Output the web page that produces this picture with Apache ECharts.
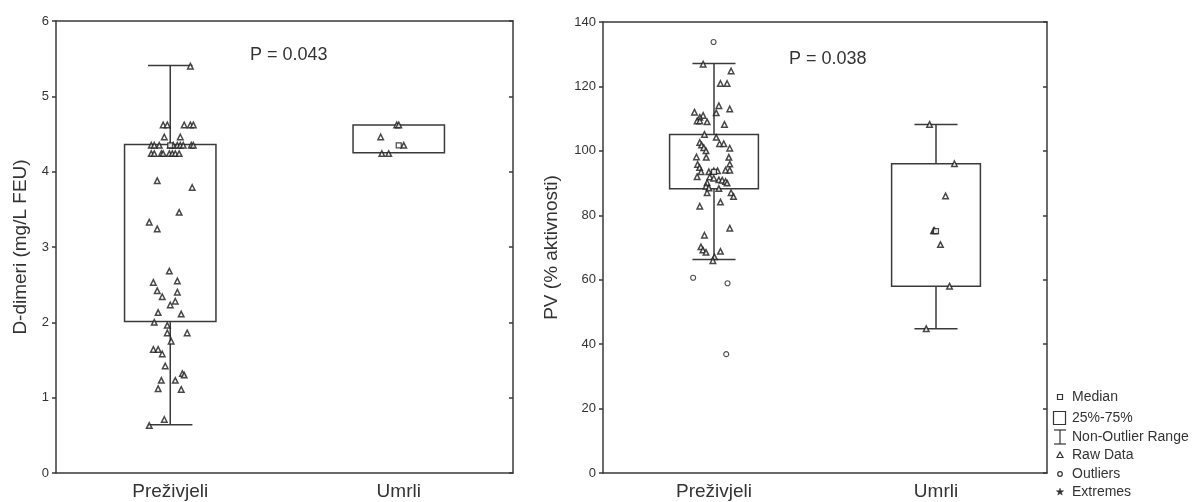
<!DOCTYPE html>
<html><head><meta charset="utf-8">
<script src="https://cdn.jsdelivr.net/npm/echarts@6/dist/echarts.min.js"></script>
<style>html,body{margin:0;padding:0;background:#fff}#c{width:1194px;height:502px}</style>
</head><body><div id="c"></div>
<script>
// ---------- DATA ----------
const categories = ['Preživjeli', 'Umrli'];
const ddTicks = [0, 1, 2, 3, 4, 5, 6];
const pvTicks = [0, 20, 40, 60, 80, 100, 120, 140];
// box stats: [category index, non-outlier min, Q1, median, Q3, non-outlier max]
const ddBox = [[0, 0.64, 2.01, 4.35, 4.36, 5.41], [1, 4.25, 4.25, 4.35, 4.62, 4.62]];
const pvBox = [[0, 66.3, 88.2, 93.5, 105.1, 127.1], [1, 44.8, 58.0, 75.1, 96.0, 108.2]];
// raw data: [category index + jitter, value]
const ddRawSurvived = [
  [0.088,5.40],[-0.031,4.62],[-0.013,4.62],[0.061,4.62],[0.088,4.62],[0.101,4.62],
  [-0.026,4.46],[0.044,4.46],
  [-0.083,4.35],[-0.070,4.35],[-0.048,4.35],[0.000,4.35],[0.013,4.35],[0.031,4.35],[0.044,4.35],[0.057,4.35],[0.092,4.35],[0.101,4.35],
  [-0.083,4.24],[-0.070,4.24],[-0.039,4.24],[-0.031,4.24],[-0.004,4.24],[0.009,4.24],[0.022,4.24],[0.039,4.24],
  [-0.057,3.88],[0.096,3.79],[0.039,3.46],[-0.092,3.33],[-0.057,3.24],
  [-0.004,2.68],[-0.074,2.53],[0.031,2.55],[-0.057,2.42],[0.031,2.40],[-0.035,2.34],[0.022,2.28],[0.000,2.23],[-0.053,2.13],[0.048,2.11],
  [-0.070,2.00],[-0.013,1.96],[-0.013,1.86],[0.074,1.86],[0.004,1.75],[-0.074,1.64],[-0.053,1.64],[-0.035,1.58],[-0.022,1.42],
  [0.053,1.32],[0.061,1.30],[-0.039,1.23],[0.022,1.23],[-0.053,1.12],[0.048,1.11],[-0.026,0.71],[-0.092,0.63]
];
const ddRawDied = [[0.991,4.62],[1.000,4.62],[0.921,4.46],[1.022,4.35],[0.926,4.24],[0.956,4.24]];
const pvRawSurvived = [
  [-0.049,126.9],[0.077,124.8],[0.029,120.9],[0.059,120.9],[0.022,114.0],[0.071,113.0],[0.010,111.8],[-0.088,112.0],
  [-0.049,111.0],[-0.064,110.4],[-0.076,109.3],[-0.064,109.3],[-0.031,109.0],[0.047,108.2],[-0.043,105.1],[0.010,104.2],
  [-0.064,102.6],[-0.056,101.8],[-0.046,101.0],[-0.036,100.0],[0.025,102.2],[0.044,102.2],[0.071,100.8],
  [-0.079,98.1],[-0.035,98.0],[0.067,98.0],[-0.074,95.8],[-0.065,94.8],[0.071,95.9],[-0.058,93.5],[-0.076,92.0],
  [-0.023,93.5],[-0.001,93.8],[0.016,93.8],[0.052,94.0],[0.071,94.0],[-0.019,91.9],[-0.001,91.5],[0.022,91.0],
  [0.037,90.9],[0.052,90.5],[0.059,90.0],[-0.031,90.1],[-0.036,89.0],[-0.023,88.5],[0.022,88.3],[-0.031,87.0],
  [0.077,87.0],[0.088,85.8],[-0.064,82.8],[0.029,84.1],[0.071,76.0],[-0.043,73.8],[-0.059,70.2],[-0.050,69.2],
  [-0.036,68.5],[0.029,68.8],[0.002,67.1],[-0.005,65.9]
];
const pvOutliers = [[-0.002,133.8],[-0.094,60.6],[0.061,58.9],[0.055,36.9]];
const pvRawDied = [[0.971,108.2],[1.083,96.0],[1.043,86.0],[0.989,75.2],[0.994,75.2],[1.020,70.9],[1.061,58.0],[0.956,44.8]];
const pLabels = ['P = 0.043', 'P = 0.038'];
const yNames = ['D-dimeri (mg/L FEU)', 'PV (% aktivnosti)'];
const legendItems = ['Median', '25%-75%', 'Non-Outlier Range', 'Raw Data', 'Outliers', 'Extremes'];

// ---------- CHART ----------
const INK = '#333';
const LINE = { color: '#3a3a3a', width: 1.5 };
const font = 'Liberation Sans, Arial, sans-serif';

function renderBox(params, api) {
  const x = api.value(0), lo = api.value(1), q1 = api.value(2), q3 = api.value(4), hi = api.value(5);
  const hb = 0.2, hc = 0.097;
  const xl = api.coord([x - hb, 0])[0], xr = api.coord([x + hb, 0])[0];
  const xc = api.coord([x, 0])[0];
  const cl = api.coord([x - hc, 0])[0], cr = api.coord([x + hc, 0])[0];
  const yq1 = api.coord([x, q1])[1], yq3 = api.coord([x, q3])[1];
  const ylo = api.coord([x, lo])[1], yhi = api.coord([x, hi])[1];
  const st = { stroke: '#3a3a3a', lineWidth: 1.5, fill: null };
  const ch = [{ type: 'rect', shape: { x: xl, y: yq3, width: xr - xl, height: yq1 - yq3 }, style: st }];
  if (hi > q3) {
    ch.push({ type: 'line', shape: { x1: xc, y1: yq3, x2: xc, y2: yhi }, style: st });
    ch.push({ type: 'line', shape: { x1: cl, y1: yhi, x2: cr, y2: yhi }, style: st });
  }
  if (lo < q1) {
    ch.push({ type: 'line', shape: { x1: xc, y1: yq1, x2: xc, y2: ylo }, style: st });
    ch.push({ type: 'line', shape: { x1: cl, y1: ylo, x2: cr, y2: ylo }, style: st });
  }
  return { type: 'group', children: ch };
}

const grids = [
  { left: 56, top: 21, width: 457, height: 452 },
  { left: 603, top: 22, width: 444, height: 451 }
];
const yRanges = [[0, 6, 1], [0, 140, 20]];
const nameGaps = [26, 42];

const xAxis = [], yAxis = [], series = [];
grids.forEach((g, i) => {
  xAxis.push({ gridIndex: i, type: 'category', data: categories, position: 'bottom', boundaryGap: true,
    axisLine: { onZero: false, lineStyle: LINE }, axisTick: { inside: true, length: 3, alignWithLabel: true, lineStyle: LINE },
    axisLabel: { fontSize: 19, color: INK, margin: 9, fontFamily: font } });
  xAxis.push({ gridIndex: i, type: 'category', data: categories, position: 'top', boundaryGap: true,
    axisLine: { onZero: false, lineStyle: LINE }, axisTick: { inside: true, length: 3, alignWithLabel: true, lineStyle: LINE },
    axisLabel: { show: false } });
  xAxis.push({ gridIndex: i, type: 'value', min: -0.5, max: 1.5, show: false, axisLine: { onZero: false } });
  const [mn, mx, iv] = yRanges[i];
  yAxis.push({ gridIndex: i, type: 'value', min: mn, max: mx, interval: iv, position: 'left',
    name: yNames[i], nameLocation: 'middle', nameGap: nameGaps[i], nameRotate: 90,
    nameTextStyle: { fontSize: 19, color: INK, fontFamily: font },
    axisLine: { show: true, onZero: false, lineStyle: LINE }, axisTick: { show: true, inside: false, length: 4, lineStyle: LINE },
    splitLine: { show: false }, axisLabel: { fontSize: 13, color: INK, margin: 7, fontFamily: font } });
  yAxis.push({ gridIndex: i, type: 'value', min: mn, max: mx, interval: iv, position: 'right',
    axisLine: { show: true, onZero: false, lineStyle: LINE }, axisTick: { show: true, inside: true, length: 4, lineStyle: LINE },
    splitLine: { show: false }, axisLabel: { show: false } });
});

function vx(i) { return i * 3 + 2; }
function vy(i) { return i * 2; }
const tri = { symbol: 'triangle', symbolSize: 5.5, itemStyle: { color: '#fff', borderColor: '#1a1a1a', borderWidth: 1.5 } };
const boxes = [ddBox, pvBox];
const raws = [[ddRawSurvived, ddRawDied], [pvRawSurvived, pvRawDied]];
boxes.forEach((b, i) => {
  series.push({ type: 'custom', xAxisIndex: vx(i), yAxisIndex: vy(i), renderItem: renderBox,
    encode: { x: 0, y: [1, 2, 3, 4, 5] }, data: b, z: 2, silent: true });
  raws[i].forEach(r => series.push(Object.assign({ type: 'scatter', xAxisIndex: vx(i), yAxisIndex: vy(i), data: r, z: 3, silent: true }, tri)));
  series.push({ type: 'scatter', xAxisIndex: vx(i), yAxisIndex: vy(i), z: 4, silent: true,
    data: b.map(d => [d[0], d[3]]), symbol: 'rect', symbolSize: 5,
    itemStyle: { color: '#fff', borderColor: '#1a1a1a', borderWidth: 1.2 } });
});
series.push({ type: 'scatter', xAxisIndex: vx(1), yAxisIndex: vy(1), data: pvOutliers, z: 3, silent: true,
  symbol: 'circle', symbolSize: 5, itemStyle: { color: '#fff', borderColor: '#222', borderWidth: 1.1 } });

// legend and annotation graphics
const gstroke = { stroke: '#333', lineWidth: 1.2, fill: '#fff' };
const starPts = [];
for (let k = 0; k < 10; k++) {
  const r = k % 2 ? 1.6 : 3.8, a = -Math.PI / 2 + k * Math.PI / 5;
  starPts.push([1060 + r * Math.cos(a), 492 + r * Math.sin(a)]);
}
const legY = [397, 418, 437, 455, 474, 492];
const graphic = [
  { type: 'text', left: 250, top: 46, style: { text: pLabels[0], fontSize: 18, fill: INK, fontFamily: font } },
  { type: 'text', left: 789, top: 50, style: { text: pLabels[1], fontSize: 18, fill: INK, fontFamily: font } },
  { type: 'rect', shape: { x: 1057.5, y: 394.5, width: 5, height: 5 }, style: gstroke },
  { type: 'rect', shape: { x: 1053.5, y: 411.5, width: 12, height: 13 }, style: gstroke },
  { type: 'line', shape: { x1: 1060, y1: 430, x2: 1060, y2: 444 }, style: gstroke },
  { type: 'line', shape: { x1: 1054, y1: 430, x2: 1066, y2: 430 }, style: gstroke },
  { type: 'line', shape: { x1: 1054, y1: 444, x2: 1066, y2: 444 }, style: gstroke },
  { type: 'polygon', shape: { points: [[1060, 452], [1063, 457.5], [1057, 457.5]] }, style: gstroke },
  { type: 'circle', shape: { cx: 1060, cy: 474, r: 2.3 }, style: gstroke },
  { type: 'polygon', shape: { points: starPts }, style: { fill: '#333', stroke: '#333', lineWidth: 0.5 } }
];
legendItems.forEach((t, k) => graphic.push({ type: 'text', x: 1072, y: legY[k],
  style: { text: t, fontSize: 14, fill: INK, fontFamily: font, verticalAlign: 'middle', align: 'left' } }));

const chart = echarts.init(document.getElementById('c'), null, { renderer: 'canvas' });
chart.setOption({ animation: false, backgroundColor: '#fff', grid: grids, xAxis, yAxis, series, graphic });
</script></body></html>
